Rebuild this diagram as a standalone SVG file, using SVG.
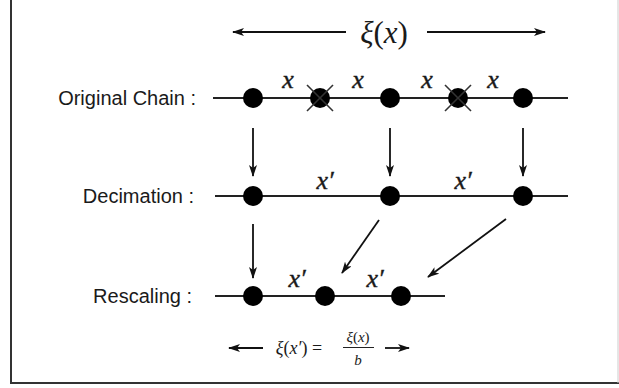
<svg xmlns="http://www.w3.org/2000/svg" width="619" height="388" viewBox="0 0 619 388">
<style>
.lbl{font-family:"Liberation Sans",Arial,sans-serif;font-size:20px;fill:#1a1a1a;text-anchor:end}
.m{font-family:"Liberation Serif","Times New Roman",serif;font-style:italic;fill:#1a1a1a;text-anchor:middle}
.v{font-size:26px;stroke:#1a1a1a;stroke-width:0.4}
.u{font-style:normal}
.chain{stroke:#222;stroke-width:2;fill:none}
.dot{fill:#000}
.cross{stroke:#333;stroke-width:1.6}
.arr{stroke:#111;stroke-width:1.8;fill:none;marker-end:url(#ah)}
</style>
<defs>
<marker id="ah" viewBox="0 0 12 8" refX="11" refY="4" markerWidth="12" markerHeight="8" markerUnits="userSpaceOnUse" orient="auto">
<path d="M0,0 L12,4 L0,8 L3,4 z" fill="#111"/>
</marker>
</defs>
<rect width="619" height="388" fill="#fff"/>
<g id="frame">
<line x1="11" y1="0" x2="11" y2="383" stroke="#333" stroke-width="2"/>
<line x1="10" y1="383" x2="619" y2="383" stroke="#333" stroke-width="2"/>
<line x1="618" y1="0" x2="618" y2="383" stroke="#ccc" stroke-width="1"/>
</g>
<g id="connectors">
<line class="arr" x1="346" y1="32" x2="233" y2="32"/>
<line class="arr" x1="427" y1="32" x2="545" y2="32"/>
<line class="arr" x1="253" y1="128" x2="253" y2="176"/>
<line class="arr" x1="390" y1="128" x2="390" y2="176"/>
<line class="arr" x1="523" y1="128" x2="523" y2="176"/>
<line class="arr" x1="253" y1="224" x2="253" y2="278"/>
<line class="arr" x1="379" y1="220" x2="342" y2="273"/>
<line class="arr" x1="506" y1="219" x2="428" y2="277"/>
<line class="arr" x1="263" y1="348" x2="229" y2="348"/>
<line class="arr" x1="385" y1="348" x2="409" y2="348"/>
</g>
<g id="top-label">
<text class="m" x="384" y="43" font-size="31">ξ<tspan class="u">(</tspan>x<tspan class="u">)</tspan></text>
</g>
<g id="original-chain">
<text class="lbl" x="196" y="105">Original Chain :</text>
<line class="chain" x1="213" y1="98" x2="568" y2="98"/>
<circle class="dot" cx="253" cy="98" r="10"/>
<circle class="dot" cx="320" cy="98" r="10"/>
<line class="cross" x1="307" y1="85" x2="333" y2="111"/>
<line class="cross" x1="307" y1="111" x2="333" y2="85"/>
<circle class="dot" cx="390" cy="98" r="10"/>
<circle class="dot" cx="458" cy="98" r="10"/>
<line class="cross" x1="445" y1="85" x2="471" y2="111"/>
<line class="cross" x1="445" y1="111" x2="471" y2="85"/>
<circle class="dot" cx="523" cy="98" r="10"/>
<text class="m v" x="288" y="88">x</text>
<text class="m v" x="358" y="88">x</text>
<text class="m v" x="427" y="88">x</text>
<text class="m v" x="493" y="88">x</text>
</g>
<g id="decimation">
<text class="lbl" x="194" y="203">Decimation :</text>
<line class="chain" x1="215" y1="196" x2="568" y2="196"/>
<circle class="dot" cx="253" cy="196" r="10"/>
<circle class="dot" cx="390" cy="196" r="10"/>
<circle class="dot" cx="523" cy="196" r="10"/>
<text class="m v" x="325" y="189">x′</text>
<text class="m v" x="463" y="189">x′</text>
</g>
<g id="rescaling">
<text class="lbl" x="192" y="303">Rescaling :</text>
<line class="chain" x1="215" y1="296" x2="445" y2="296"/>
<circle class="dot" cx="253" cy="296" r="10"/>
<circle class="dot" cx="325" cy="296" r="10"/>
<circle class="dot" cx="401" cy="296" r="10"/>
<text class="m v" x="297" y="287">x′</text>
<text class="m v" x="375" y="287">x′</text>
</g>
<g id="formula">
<text class="m" x="299" y="354" font-size="18">ξ<tspan class="u">(</tspan>x′<tspan class="u">) =</tspan></text>
<text class="m" x="358" y="342" font-size="15">ξ<tspan class="u">(</tspan>x<tspan class="u">)</tspan></text>
<line x1="343" y1="347.5" x2="374" y2="347.5" stroke="#222" stroke-width="1"/>
<text class="m" x="358" y="365" font-size="15">b</text>
</g>
</svg>
